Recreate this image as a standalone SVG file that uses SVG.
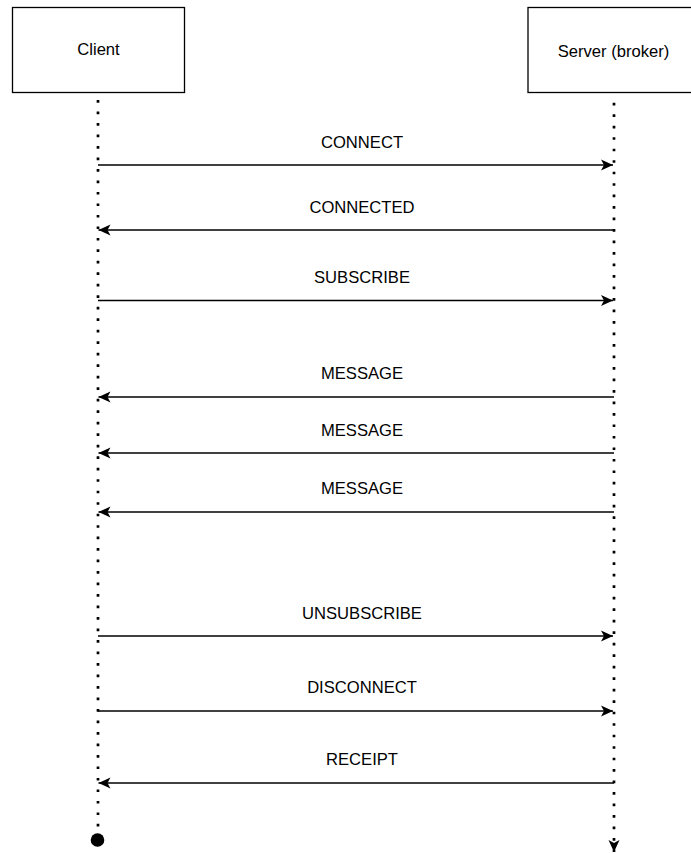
<svg xmlns="http://www.w3.org/2000/svg" width="691" height="853" viewBox="0 0 691 853">
  <style>
    .box { fill: #ffffff; stroke: #000000; stroke-width: 1.3; }
    .lbl { font-family: "Liberation Sans", Arial, Helvetica, sans-serif; font-size: 16.6px; fill: #000000; text-anchor: middle; }
    .life { fill: none; stroke: #000000; stroke-width: 2.7; stroke-dasharray: 2.7 8.79; }
    .msg { fill: none; stroke: #000000; stroke-width: 1.3; marker-end: url(#arrow); }
  </style>
  <defs>
    <marker id="arrow" viewBox="-13 -7 14 14" refX="0" refY="0" markerWidth="14" markerHeight="14" markerUnits="userSpaceOnUse" orient="auto">
      <path d="M0,0 L-12,-5.5 L-9,0 L-12,5.5 Z" fill="#000000"/>
    </marker>
  </defs>
  <rect width="691" height="853" fill="#ffffff"/>

  <g id="client">
    <rect class="box" x="12.5" y="7.5" width="172" height="85"/>
    <text class="lbl" x="98.5" y="55">Client</text>
  </g>

  <g id="server">
    <rect class="box" x="528" y="7.5" width="172" height="85"/>
    <text class="lbl" x="613.5" y="56.5">Server (broker)</text>
  </g>

  <g id="lifelines">
    <line class="life" x1="98" y1="100" x2="98" y2="836"/>
    <circle cx="97.5" cy="840" r="6.8" fill="#000000"/>
    <line class="life" x1="614" y1="102.7" x2="614" y2="852" marker-end="url(#arrow)"/>
  </g>

  <g id="connectors">
    <line class="msg" x1="98" y1="165" x2="613" y2="165"/>
    <line class="msg" x1="614" y1="230" x2="98.5" y2="230"/>
    <line class="msg" x1="98" y1="300.5" x2="613" y2="300.5"/>
    <line class="msg" x1="614" y1="397" x2="98.5" y2="397"/>
    <line class="msg" x1="614" y1="453" x2="98.5" y2="453"/>
    <line class="msg" x1="614" y1="512" x2="98.5" y2="512"/>
    <line class="msg" x1="98" y1="636" x2="613" y2="636"/>
    <line class="msg" x1="98" y1="711" x2="613" y2="711"/>
    <line class="msg" x1="614" y1="783" x2="98.5" y2="783"/>
  </g>

  <g id="labels">
    <text class="lbl" x="362" y="147.7">CONNECT</text>
    <text class="lbl" x="362" y="212.7">CONNECTED</text>
    <text class="lbl" x="362" y="283.2">SUBSCRIBE</text>
    <text class="lbl" x="362" y="379.2">MESSAGE</text>
    <text class="lbl" x="362" y="436">MESSAGE</text>
    <text class="lbl" x="362" y="494">MESSAGE</text>
    <text class="lbl" x="362" y="618.7">UNSUBSCRIBE</text>
    <text class="lbl" x="362" y="693">DISCONNECT</text>
    <text class="lbl" x="362" y="765">RECEIPT</text>
  </g>
</svg>
